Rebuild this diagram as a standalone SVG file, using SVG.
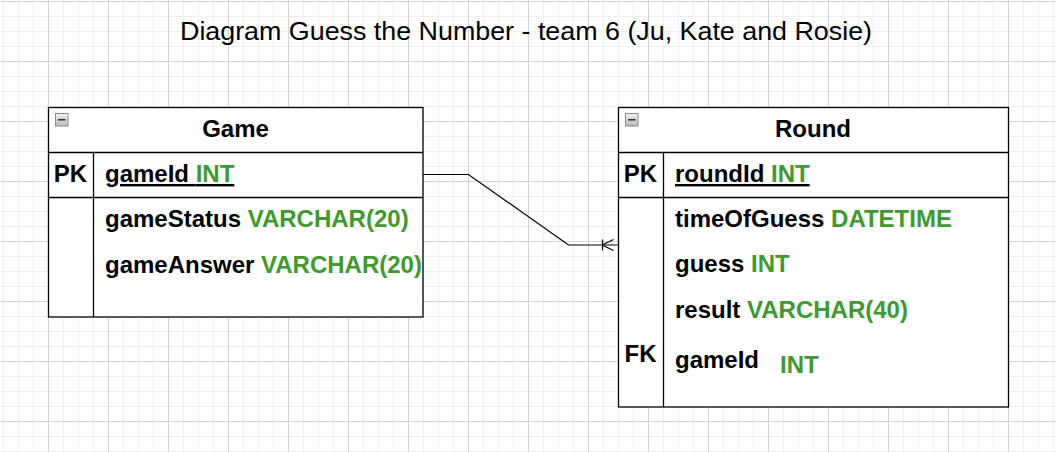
<svg xmlns="http://www.w3.org/2000/svg" width="1056" height="452" viewBox="0 0 1056 452">
<style>
.box{fill:#fff;stroke:#000;stroke-width:1.3}
.ln{fill:none;stroke:#000;stroke-width:1.3}
.t{font-family:"Liberation Sans",Arial,Helvetica,sans-serif;font-size:24px;font-weight:bold;fill:#000}
.g{fill:#3D9A2E}
.title{font-family:"Liberation Sans",Arial,Helvetica,sans-serif;font-size:26.67px;fill:#000}
.edge{fill:none;stroke:#000;stroke-width:1.2}
</style>
<defs>
<pattern id="grid" patternUnits="userSpaceOnUse" x="48" y="1" width="60" height="60">
<path d="M15.5 0V60M30.5 0V60M45.5 0V60M0 15.5H60M0 30.5H60M0 45.5H60" stroke="#efefef" stroke-width="1" fill="none"/>
<path d="M0.5 0V60M0 0.5H60" stroke="#d3d3d3" stroke-width="1" fill="none"/>
</pattern>
<linearGradient id="ic" x1="0" y1="0" x2="0" y2="1">
<stop offset="0" stop-color="#f2f2f2"/>
<stop offset="1" stop-color="#b8b8b8"/>
</linearGradient>
<g id="minus">
<rect x="0.5" y="0.5" width="12.5" height="12.5" fill="url(#ic)" stroke="#8a8a8a"/>
<path d="M3 6.75H10.5" stroke="#333" stroke-width="1.6"/>
</g>
</defs>
<rect width="1056" height="452" fill="#fff"/>
<rect width="1056" height="452" fill="url(#grid)"/>
<text class="title" x="180" y="40" textLength="692" lengthAdjust="spacingAndGlyphs">Diagram Guess the Number - team 6 (Ju, Kate and Rosie)</text>

<g id="game">
<rect class="box" x="48.5" y="107.5" width="374.5" height="209.5"/>
<path class="ln" d="M48.5 152.5H423M48.5 197.5H423M93.5 152.5V317"/>
<use href="#minus" x="55" y="113"/>
<text class="t" x="235.5" y="137" text-anchor="middle">Game</text>
<text class="t" x="70.5" y="182" text-anchor="middle">PK</text>
<text class="t" x="105" y="182" text-decoration="underline">gameId <tspan class="g">INT</tspan></text>
<text class="t" x="105" y="227">gameStatus <tspan class="g">VARCHAR(20)</tspan></text>
<text class="t" x="105" y="273">gameAnswer <tspan class="g">VARCHAR(20)</tspan></text>
</g>

<g id="round">
<rect class="box" x="618.5" y="107.5" width="390" height="299.5"/>
<path class="ln" d="M618.5 152.5H1008.5M618.5 197.5H1008.5M663.5 152.5V407"/>
<use href="#minus" x="625" y="113"/>
<text class="t" x="813" y="137" text-anchor="middle">Round</text>
<text class="t" x="640.5" y="182" text-anchor="middle">PK</text>
<text class="t" x="675" y="182" text-decoration="underline">roundId <tspan class="g">INT</tspan></text>
<text class="t" x="675" y="227">timeOfGuess <tspan class="g">DATETIME</tspan></text>
<text class="t" x="675" y="272">guess <tspan class="g">INT</tspan></text>
<text class="t" x="675" y="318">result <tspan class="g">VARCHAR(40)</tspan></text>
<text class="t" x="640.5" y="362" text-anchor="middle">FK</text>
<text class="t" x="675" y="368">gameId</text>
<text class="t g" x="780" y="373">INT</text>
</g>

<g id="connectors">
<path class="edge" d="M423 174.5H468.5L568.5 245H618"/>
<path class="edge" d="M602.5 239.5V250.5M602 245L613.5 239.5M602 245L613.5 250.5"/>
</g>
</svg>
